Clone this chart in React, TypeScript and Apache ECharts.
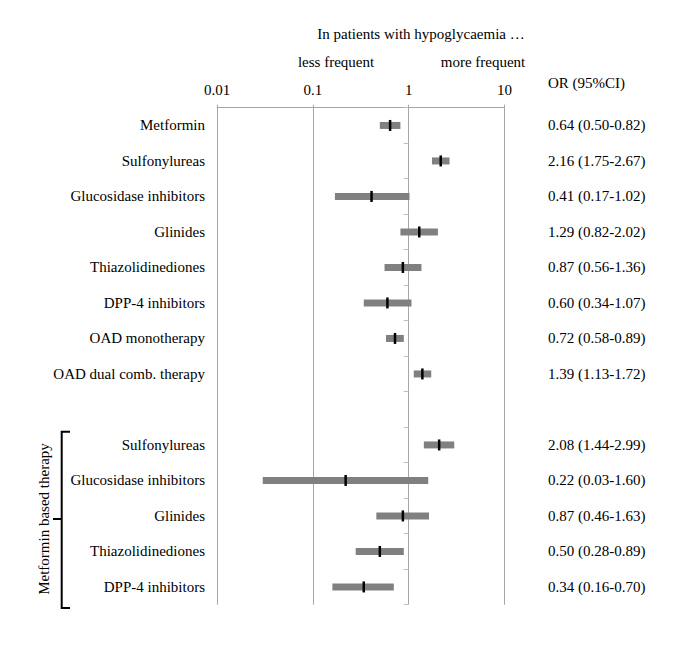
import React, { useEffect, useRef } from "react";
import * as echarts from "echarts";

const categories = [
  "Metformin",
  "Sulfonylureas",
  "Glucosidase inhibitors",
  "Glinides",
  "Thiazolidinediones",
  "DPP-4 inhibitors",
  "OAD monotherapy",
  "OAD dual comb. therapy",
  "",
  "Sulfonylureas",
  "Glucosidase inhibitors",
  "Glinides",
  "Thiazolidinediones",
  "DPP-4 inhibitors",
];
const orValues: (number | null)[] = [0.64, 2.16, 0.41, 1.29, 0.87, 0.6, 0.72, 1.39, null, 2.08, 0.22, 0.87, 0.5, 0.34];
const ciLow: (number | null)[] = [0.5, 1.75, 0.17, 0.82, 0.56, 0.34, 0.58, 1.13, null, 1.44, 0.03, 0.46, 0.28, 0.16];
const ciHigh: (number | null)[] = [0.82, 2.67, 1.02, 2.02, 1.36, 1.07, 0.89, 1.72, null, 2.99, 1.6, 1.63, 0.89, 0.7];
const xTicks = [0.01, 0.1, 1, 10];

const FONT = "'Liberation Serif', 'Times New Roman', serif";
const FS = 15;

export default function App() {
  const ref = useRef<HTMLDivElement>(null);
  useEffect(() => {
    if (!ref.current) return;
    const chart = echarts.init(ref.current, undefined, { renderer: "svg" });
    const orLabels = categories.map((_, i) =>
      orValues[i] == null
        ? ""
        : `${orValues[i]!.toFixed(2)} (${ciLow[i]!.toFixed(2)}-${ciHigh[i]!.toFixed(2)})`
    );
    const data: number[][] = [];
    categories.forEach((_, i) => {
      if (orValues[i] != null) data.push([i, ciLow[i]!, ciHigh[i]!, orValues[i]!]);
    });
    const left = 217;
    const right = 180.5;
    const plotW = 685 - left - right;
    const oneX = plotW * (2 / 3);
    chart.setOption({
      animation: false,
      textStyle: { fontFamily: FONT },
      grid: { left, right, top: 107.7, bottom: 42.3 },
      xAxis: {
        type: "log",
        position: "top",
        min: xTicks[0],
        max: xTicks[xTicks.length - 1],
        logBase: 10,
        axisLine: { show: true, lineStyle: { color: "#a6a6a6", width: 1 } },
        axisTick: { show: true, length: 3, lineStyle: { color: "#a6a6a6" } },
        axisLabel: {
          color: "#000",
          fontFamily: FONT,
          fontSize: FS,
          margin: 10,
          formatter: (v: number) => String(Number(v.toPrecision(3))),
        },
        splitLine: { show: true, lineStyle: { color: "#a6a6a6", width: 1 } },
      },
      yAxis: [
        {
          type: "category",
          data: categories,
          inverse: true,
          position: "left",
          axisLine: { show: false },
          axisTick: { show: false },
          axisLabel: { color: "#000", fontFamily: FONT, fontSize: FS, margin: 12 },
          splitLine: { show: false },
        },
        {
          type: "category",
          data: orLabels,
          inverse: true,
          position: "right",
          axisLine: { show: false },
          axisTick: { show: false },
          axisLabel: { color: "#000", fontFamily: FONT, fontSize: FS, margin: 43.5, align: "left" },
          splitLine: { show: false },
        },
        {
          type: "category",
          data: categories,
          inverse: true,
          position: "left",
          offset: -oneX,
          axisLine: { show: false },
          axisTick: { show: true, length: 5, lineStyle: { color: "#bfbfbf" } },
          axisLabel: { show: false },
          splitLine: { show: false },
        },
      ],
      series: [
        {
          type: "custom",
          xAxisIndex: 0,
          yAxisIndex: 0,
          data,
          encode: { x: [1, 2, 3], y: 0 },
          renderItem: (params: any, api: any) => {
            const y = api.value(0);
            const lo = api.coord([api.value(1), y]);
            const hi = api.coord([api.value(2), y]);
            const or = api.coord([api.value(3), y]);
            return {
              type: "group",
              children: [
                {
                  type: "rect",
                  shape: { x: lo[0], y: lo[1] - 3.5, width: hi[0] - lo[0], height: 7 },
                  style: { fill: "#808080" },
                },
                {
                  type: "rect",
                  shape: { x: or[0] - 1.25, y: or[1] - 5.5, width: 2.5, height: 11 },
                  style: { fill: "#000" },
                },
              ],
            };
          },
        },
      ],
      graphic: [
        {
          type: "text",
          x: 421,
          y: 34,
          style: { text: "In patients with hypoglycaemia …", font: `${FS}px ${FONT}`, fill: "#000", align: "center", verticalAlign: "middle" },
        },
        {
          type: "text",
          x: 336,
          y: 62,
          style: { text: "less frequent", font: `${FS}px ${FONT}`, fill: "#000", align: "center", verticalAlign: "middle" },
        },
        {
          type: "text",
          x: 483,
          y: 62,
          style: { text: "more frequent", font: `${FS}px ${FONT}`, fill: "#000", align: "center", verticalAlign: "middle" },
        },
        {
          type: "text",
          x: 548,
          y: 83,
          style: { text: "OR (95%CI)", font: `${FS}px ${FONT}`, fill: "#000", align: "left", verticalAlign: "middle" },
        },
        {
          type: "polyline",
          shape: { points: [[70, 431.7], [61.7, 431.7], [61.7, 608], [70, 608]] },
          style: { stroke: "#000", lineWidth: 2, fill: "none" },
        },
        {
          type: "line",
          shape: { x1: 53, y1: 519, x2: 61.7, y2: 519 },
          style: { stroke: "#000", lineWidth: 2 },
        },
        {
          type: "text",
          x: 44,
          y: 519,
          rotation: Math.PI / 2,
          style: { text: "Metformin based therapy", font: `${FS}px ${FONT}`, fill: "#000", align: "center", verticalAlign: "middle" },
        },
      ],
    });
    return () => chart.dispose();
  }, []);
  return (
    <div
      ref={ref}
      style={{ position: "fixed", left: 0, top: 0, width: 685, height: 647, background: "#fff" }}
    />
  );
}
